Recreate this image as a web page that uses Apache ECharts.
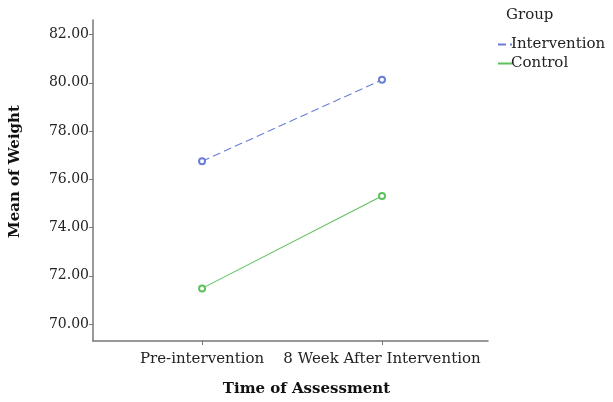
<!DOCTYPE html>
<html><head><meta charset="utf-8">
<script src="https://cdn.jsdelivr.net/npm/echarts@6/dist/echarts.min.js"></script>
<style>html,body{margin:0;padding:0;background:#fff}#c{width:613px;height:402px}</style>
</head><body><div id="c"></div>
<script>
const categories = ['Pre-intervention', '8 Week After Intervention'];
const intervention = [76.75, 80.12];
const control = [71.48, 75.31];
const yTicks = [70, 72, 74, 76, 78, 80, 82];
const groupNames = ['Intervention', 'Control'];

const FONT = 'DejaVu Serif';
const chart = echarts.init(document.getElementById('c'), null, {renderer: 'canvas'});
const toPts = arr => arr.map((v, i) => [i, v]);
chart.setOption({
  animation: false,
  backgroundColor: '#fff',
  grid: {left: 93, right: 125, top: 20, bottom: 57, containLabel: false},
  xAxis: {
    type: 'value', min: -0.606, max: 1.589,
    name: 'Time of Assessment', nameLocation: 'middle', nameGap: 41,
    nameTextStyle: {fontFamily: FONT, fontSize: 15, fontWeight: 'bold', color: '#111', padding: [0, 0, 0, 32]},
    axisLine: {show: true, onZero: false, lineStyle: {color: '#777', width: 1.5}},
    axisTick: {show: true, length: 4, customValues: [0, 1], lineStyle: {color: '#777'}},
    axisLabel: {customValues: [0, 1], formatter: v => categories[Math.round(v)], margin: 11,
      fontFamily: FONT, fontSize: 15, color: '#222'},
    splitLine: {show: false}
  },
  yAxis: {
    type: 'value', min: 69.3, max: 82.6,
    name: 'Mean of Weight', nameLocation: 'middle', nameGap: 70, nameRotate: 90,
    nameTextStyle: {fontFamily: FONT, fontSize: 15, fontWeight: 'bold', color: '#111', padding: [0, 0, 0, 18]},
    axisLine: {show: true, onZero: false, lineStyle: {color: '#777', width: 1.5}},
    axisTick: {show: true, length: 4, customValues: yTicks, lineStyle: {color: '#777'}},
    axisLabel: {customValues: yTicks, formatter: v => v.toFixed(2), margin: 4,
      fontFamily: FONT, fontSize: 14, color: '#222'},
    splitLine: {show: false}
  },
  legend: {
    orient: 'vertical', left: 492, top: 32, itemGap: 4, itemWidth: 14, itemHeight: 12,
    data: groupNames,
    itemStyle: {opacity: 0},
    textStyle: {fontFamily: FONT, fontSize: 15, color: '#222', padding: [0, 0, 0, -6]}
  },
  graphic: [{type: 'text', left: 506, top: 8,
    style: {text: 'Group', font: '15px "DejaVu Serif"', fill: '#222'}}],
  series: [
    {name: groupNames[0], type: 'line', data: toPts(intervention), symbol: 'emptyCircle', symbolSize: 6,
      lineStyle: {color: '#6a7ed6', width: 1.1, type: [8, 4]}, itemStyle: {color: '#6a7ed6', borderWidth: 1}},
    {name: groupNames[1], type: 'line', data: toPts(control), symbol: 'emptyCircle', symbolSize: 6,
      lineStyle: {color: '#5dc15d', width: 1.1}, itemStyle: {color: '#5dc15d', borderWidth: 1}}
  ]
});
</script></body></html>
